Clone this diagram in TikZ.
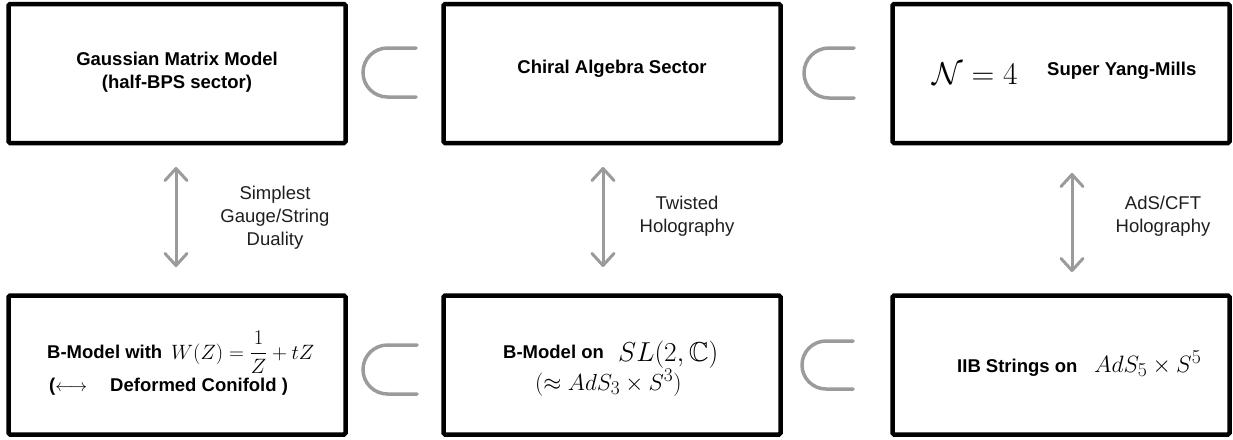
\documentclass[tikz,border=0pt]{standalone}
\usepackage{amsmath,amssymb}
\usepackage[no-math]{fontspec}
\newfontfamily\hel{Liberation Sans}
\usetikzlibrary{arrows.meta}
\definecolor{subgray}{RGB}{155,155,155}
\definecolor{labelink}{RGB}{30,30,30}
\newcommand{\bigmath}[2]{\scalebox{#1}{\fontsize{24.88}{30}\selectfont #2}}
\tikzset{
  box/.style={draw=black, line width=4.5pt, minimum width=337pt, minimum height=139pt, inner sep=0pt, rounded corners=1.5pt},
  btext/.style={font=\hel\bfseries\fontsize{18.5}{22}\selectfont, inner sep=0pt, anchor=base},
  ltext/.style={font=\hel\fontsize{18.5}{22}\selectfont, text=labelink, inner sep=0pt, anchor=base},
  mtext/.style={inner sep=0pt, anchor=base west},
  subsetsym/.style={draw=subgray, line width=3.5pt, line cap=round},
  dual/.style={draw=subgray, line width=3pt, {Straight Barb[length=12pt,width=22pt,line cap=round,line join=round]}-{Straight Barb[length=12pt,width=22pt,line cap=round,line join=round]}}
}
\begin{document}
\begin{tikzpicture}[x=1pt,y=-1pt]
\useasboundingbox (0,0) rectangle (1233,439);
% boxes
\node[box] (b1) at (177,73.5) {};
\node[box] (b2) at (612,73.5) {};
\node[box] (b3) at (1061,73.5) {};
\node[box] (b4) at (177,365) {};
\node[box] (b5) at (612,365) {};
\node[box] (b6) at (1061,365) {};
% top texts
\node[btext] (t1a) at (177,65) {Gaussian Matrix Model};
\node[btext] (t1b) at (177,88) {(half-BPS sector)};
\node[btext] (t2) at (612,73) {Chiral Algebra Sector};
\node[mtext] (t3m) at (932,84) {\bigmath{1.27}{$\mathcal{N}=4$}};
\node[btext, anchor=base west] (t3) at (1047,75) {Super Yang-Mills};
% bottom texts
\node[btext, anchor=base west] (t4a) at (47,358) {B-Model with};
\node[mtext] (t4m) at (171,359) {\fontsize{20.74}{21}\selectfont $\displaystyle W(Z)=\frac{1}{Z}+tZ$};
\node[btext, anchor=base west] (t4b) at (49,391) {(\fontsize{17.28}{17}\selectfont$\longleftrightarrow$};
\node[btext, anchor=base west] (t4c) at (110,391) {Deformed Conifold )};
\node[btext, anchor=base west] (t5a) at (503,358) {B-Model on};
\node[mtext] (t5m) at (618,361) {\bigmath{1.10}{$SL(2,\mathbb{C})$}};
\node[mtext] (t5n) at (535,390) {\bigmath{0.934}{$(\approx AdS_3\times S^3)$}};
\node[btext, anchor=base west] (t6a) at (957,372) {IIB Strings on};
\node[mtext] (t6m) at (1094,372) {\bigmath{0.95}{$AdS_5\times S^5$}};
% subset symbols
\draw[subsetsym] (416,48) -- (387.5,48) arc[start angle=90, end angle=270, radius=24.5pt] -- (416,97);
\draw[subsetsym] (854,48) -- (829,48) arc[start angle=90, end angle=270, radius=25pt] -- (854,98);
\draw[subsetsym] (417,345) -- (387.5,345) arc[start angle=90, end angle=270, radius=24.5pt] -- (417,394);
\draw[subsetsym] (853,341) -- (826,341) arc[start angle=90, end angle=270, radius=24pt] -- (853,389);
% duality arrows
\coordinate (a1t) at (176,167);
\coordinate (a1b) at (176,267);
\coordinate (a2t) at (603,167);
\coordinate (a2b) at (603,267);
\coordinate (a3t) at (1072,173);
\coordinate (a3b) at (1072,272);
\draw[dual] (a1t) -- (a1b);
\draw[dual] (a2t) -- (a2b);
\draw[dual] (a3t) -- (a3b);
% labels
\node[ltext] (l1a) at (275,199) {Simplest};
\node[ltext] (l1b) at (275,222) {Gauge/String};
\node[ltext] (l1c) at (275,245) {Duality};
\node[ltext] (l2a) at (687,209) {Twisted};
\node[ltext] (l2b) at (687,232) {Holography};
\node[ltext] (l3a) at (1163,209) {AdS/CFT};
\node[ltext] (l3b) at (1163,232) {Holography};
\end{tikzpicture}
\end{document}
